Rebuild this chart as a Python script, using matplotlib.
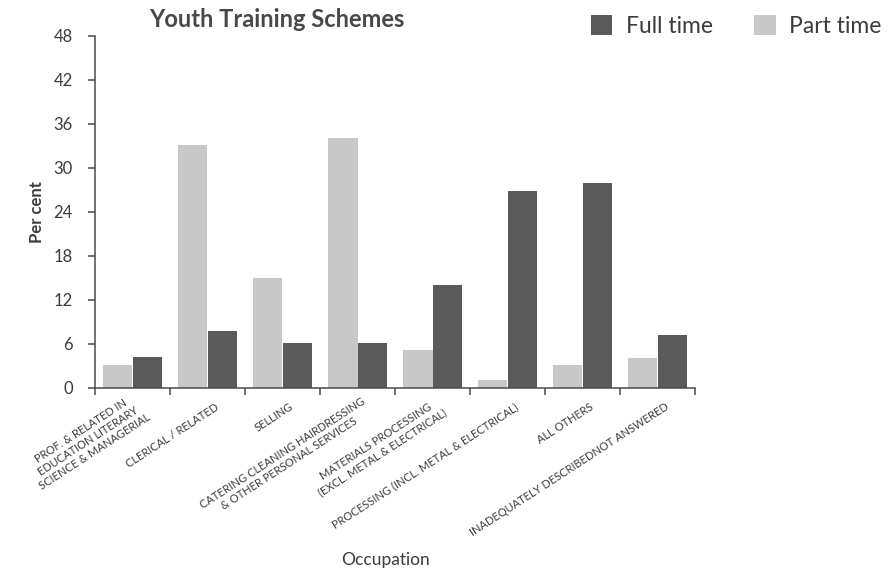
import matplotlib
matplotlib.use("Agg")
import matplotlib.pyplot as plt
import matplotlib.transforms as mtransforms
from matplotlib.patches import Patch
import numpy as np

plt.rcParams["font.family"] = ["Lato", "DejaVu Sans"]

# Data
occupations = [
    "PROF. & RELATED IN\nEDUCATION LITERARY\nSCIENCE & MANAGERIAL",
    "CLERICAL / RELATED",
    "SELLING",
    "CATERING CLEANING HAIRDRESSING\n& OTHER PERSONAL SERVICES",
    "MATERIALS PROCESSING\n(EXCL. METAL & ELECTRICAL)",
    "PROCESSING (INCL. METAL & ELECTRICAL)",
    "ALL OTHERS",
    "INADEQUATELY DESCRIBEDNOT ANSWERED",
]
part_time = [3.1, 33.1, 15.0, 34.1, 5.2, 1.1, 3.1, 4.1]
full_time = [4.2, 7.8, 6.2, 6.2, 14.0, 26.9, 27.9, 7.2]
y_ticks = [0, 6, 12, 18, 24, 30, 36, 42, 48]

TEXT = "#3c3c3c"
AXIS = "#4a4a4a"
C_FULL = "#5a5a5a"
C_PART = "#c8c8c8"

W, H = 895, 571
fig = plt.figure(figsize=(W / 100, H / 100), dpi=100)
ax = fig.add_axes([95 / W, 1 - 388 / H, 600 / W, 352 / H])

x = np.arange(len(occupations))
bw = 0.39
ax.bar(x - 0.195, part_time, width=bw, color=C_PART, linewidth=0, label="Part time")
ax.bar(x + 0.2, full_time, width=bw, color=C_FULL, linewidth=0, label="Full time")

ax.set_xlim(-0.5, len(occupations) - 0.5)
ax.set_ylim(0, 48)

for s in ("top", "right"):
    ax.spines[s].set_visible(False)
for s in ("left", "bottom"):
    ax.spines[s].set_color(AXIS)
    ax.spines[s].set_linewidth(1.1)

# y axis
ax.set_yticks(y_ticks)
ax.set_yticklabels([str(v) for v in y_ticks])
ax.tick_params(axis="y", direction="out", length=5, width=1.1, color=AXIS,
               pad=11, labelsize=12, labelcolor=TEXT)

# x axis: tick marks on category boundaries, labels at category centres
ax.set_xticks(np.arange(-0.5, len(occupations)), minor=True)
ax.tick_params(axis="x", which="minor", direction="out", length=5, width=1.1, color=AXIS)
ax.set_xticks(x)
ax.set_xticklabels(occupations)
ax.tick_params(axis="x", which="major", length=0, labelsize=8.0, labelcolor=TEXT)
offset = mtransforms.ScaledTranslation(10 / 100, -13 / 100, fig.dpi_scale_trans)
for lab in ax.get_xticklabels():
    lab.set_rotation(33)
    lab.set_ha("right")
    lab.set_va("center")
    lab.set_rotation_mode("anchor")
    lab.set_multialignment("center")
    lab.set_linespacing(1.15)
    lab.set_transform(lab.get_transform() + offset)

# titles and axis labels
fig.text(277 / W, 1 - 27 / H, "Youth Training Schemes", ha="center", va="baseline",
         fontsize=17, fontweight="bold", color="#484848")
fig.text(37 / W, 1 - 212 / H, "Per cent", ha="center", va="center", rotation=90,
         fontsize=12, fontweight="bold", color=TEXT)
fig.text(386 / W, 1 - 560 / H, "Occupation", ha="center", va="center",
         fontsize=12.5, color=TEXT)

# legend
handles = [Patch(facecolor=C_FULL, edgecolor="none", label="Full time"),
           Patch(facecolor=C_PART, edgecolor="none", label="Part time")]
fig.legend(handles=handles, loc="upper left", bbox_to_anchor=(591 / W, 1 - 15 / H),
           ncol=2, frameon=False, fontsize=16.5, handlelength=0.93, handleheight=0.95,
           handletextpad=0.6, columnspacing=1.8, borderpad=0, borderaxespad=0,
           labelcolor=TEXT)

fig.savefig("out.png", dpi=100, facecolor="white")
